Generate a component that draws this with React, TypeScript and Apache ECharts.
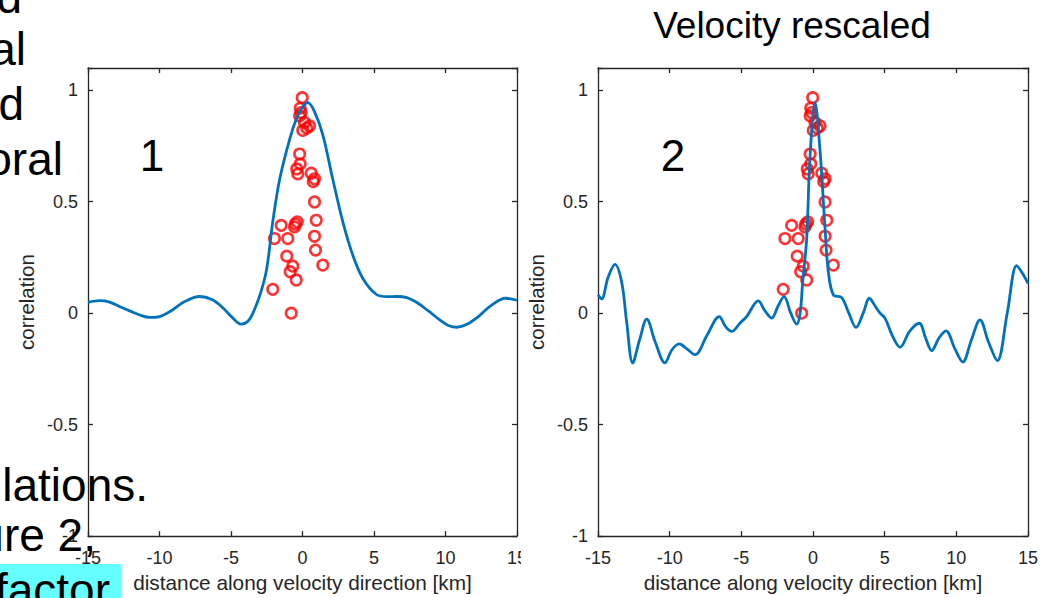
import React, { useEffect, useRef } from "react";
import * as echarts from "echarts";

// ---- data ----
const xTicks = [-15, -10, -5, 0, 5, 10, 15];
const yTicks = [-1, -0.5, 0, 0.5, 1];

const leftCurve: [number, number][] = [
  [-15, 0.049], [-14.2, 0.056], [-13.5, 0.05], [-12.8, 0.03], [-12, 0.008], [-11.3, -0.01],
  [-10.7, -0.019], [-10, -0.015], [-9.2, 0.01], [-8.3, 0.05], [-7.2, 0.075], [-6.3, 0.06],
  [-5.5, 0.02], [-4.9, -0.02], [-4.3, -0.049], [-3.8, -0.035], [-3.4, 0.01], [-2.9, 0.097],
  [-2.5, 0.2], [-2.08, 0.41], [-1.6, 0.6], [-0.9, 0.78], [-0.44, 0.87], [0, 0.925],
  [0.37, 0.945], [0.8, 0.91], [1.42, 0.8], [2.12, 0.6], [2.82, 0.41], [3.52, 0.26],
  [4.22, 0.156], [5.15, 0.085], [5.9, 0.074], [6.6, 0.075], [7.3, 0.07], [8.0, 0.048],
  [8.8, 0.01], [9.6, -0.03], [10.2, -0.055], [10.8, -0.063], [11.5, -0.05], [12.3, -0.015],
  [13.2, 0.035], [14.2, 0.067], [15, 0.058]
];

const rightCurve: [number, number][] = [
  [-15, 0.082], [-14.75, 0.064], [-14.3, 0.16], [-13.82, 0.219], [-13.35, 0.14], [-13.0, -0.04],
  [-12.58, -0.223], [-12.1, -0.12], [-11.6, -0.027], [-11.0, -0.13], [-10.33, -0.223],
  [-9.85, -0.165], [-9.33, -0.138], [-8.8, -0.16], [-8.23, -0.186], [-7.4, -0.1], [-6.54, -0.015],
  [-6.1, -0.06], [-5.67, -0.082], [-5.1, -0.045], [-4.63, -0.015], [-3.82, 0.055], [-3.35, 0.01],
  [-2.88, -0.022], [-2.45, 0.03], [-2.02, 0.074], [-1.55, 0.0], [-1.14, -0.049], [-0.9, 0.0],
  [-0.72, 0.14], [-0.44, 0.335], [-0.21, 0.7], [0.14, 0.945], [0.49, 0.73], [0.84, 0.38],
  [1.07, 0.186], [1.42, 0.082], [2.0, 0.07], [2.5, 0.0], [3.0, -0.064], [3.5, 0.0],
  [3.93, 0.067], [4.4, 0.025], [4.68, 0.0], [5.02, -0.022], [5.6, -0.11], [6.07, -0.153],
  [6.75, -0.08], [7.42, -0.045], [7.85, -0.11], [8.28, -0.168], [8.8, -0.11], [9.28, -0.079],
  [9.9, -0.16], [10.45, -0.219], [11.05, -0.12], [11.65, -0.03], [12.25, -0.13],
  [12.86, -0.213], [13.55, 0.0], [14.21, 0.213], [14.6, 0.18], [15, 0.134]
];

const scatterX = [
  -0.02, -0.16, -0.1, -0.2, 0.14, 0.49, 0.3, 0.02, -0.2, -0.16, -0.4, -0.33, 0.61, 0.75, 0.84,
  0.84, 0.96, 0.84, 0.91, 1.42, -0.37, -0.5, -0.56, -1.49, -1.96, -1.03, -1.1, -0.68, -0.86,
  -0.44, -2.08, -0.79
];
const scatterY = [
  0.967, 0.92, 0.9, 0.885, 0.856, 0.84, 0.83, 0.82, 0.714, 0.67, 0.647, 0.625, 0.628, 0.59, 0.603,
  0.499, 0.417, 0.345, 0.283, 0.216, 0.41, 0.4, 0.387, 0.394, 0.335, 0.335, 0.256, 0.211, 0.186,
  0.149, 0.107, 0.0
];

const slideLines = [
  { text: "d", right: 22, y: -3 },
  { text: "al", right: 26, y: 49 },
  { text: "d", right: 24, y: 104 },
  { text: "oral", right: 63, y: 159 },
  { text: "lations.", right: 148, y: 485 },
  { text: "ure 2,", right: 96, y: 535 },
  { text: "factor", right: 110, y: 590 }
];
const panelLabels = [
  { text: "1", x: 152, y: 155 },
  { text: "2", x: 673, y: 155 }
];
const titleText = "Velocity rescaled";
const xName = "distance along velocity direction [km]";
const yName = "correlation";

const AXIS = "#262626";
const FONT = "'Liberation Sans', Arial, sans-serif";

export default function App() {
  const ref = useRef<HTMLDivElement>(null);
  useEffect(() => {
    if (!ref.current) return;
    const chart = echarts.init(ref.current, undefined, { renderer: "svg" });
    const scatterData = scatterX.map((x, i) => [x, scatterY[i]]);

    const xBottom = (gridIndex: number) => ({
      type: "value", gridIndex, position: "bottom", min: -15, max: 15, interval: 5,
      name: xName, nameLocation: "middle", nameGap: 35,
      nameTextStyle: { color: AXIS, fontSize: 20.8, fontFamily: FONT },
      axisLine: { show: true, onZero: false, lineStyle: { color: AXIS, width: 1.3 } },
      axisTick: { show: true, inside: true, length: 5, lineStyle: { color: AXIS, width: 1.3 } },
      axisLabel: { color: AXIS, fontSize: 18, fontFamily: FONT, margin: 13 },
      splitLine: { show: false }
    });
    const xTop = (gridIndex: number) => ({
      type: "value", gridIndex, position: "top", min: -15, max: 15, interval: 5,
      axisLine: { show: true, onZero: false, lineStyle: { color: AXIS, width: 1.3 } },
      axisTick: { show: true, inside: true, length: 5, lineStyle: { color: AXIS, width: 1.3 } },
      axisLabel: { show: false }, splitLine: { show: false }
    });
    const yLeft = (gridIndex: number) => ({
      type: "value", gridIndex, position: "left", min: -1, max: 1.1, interval: 0.5,
      name: yName, nameLocation: "middle", nameGap: 51, nameRotate: 90,
      nameTextStyle: { color: AXIS, fontSize: 20.5, fontFamily: FONT },
      axisLine: { show: true, onZero: false, lineStyle: { color: AXIS, width: 1.3 } },
      axisTick: { show: true, inside: true, length: 5, lineStyle: { color: AXIS, width: 1.3 } },
      axisLabel: {
        color: AXIS, fontSize: 18, fontFamily: FONT, margin: 10,
        formatter: (v: number) => (yTicks.some((t) => Math.abs(t - v) < 1e-6) ? String(v) : "")
      },
      splitLine: { show: false }
    });
    const yRight = (gridIndex: number) => ({
      type: "value", gridIndex, position: "right", min: -1, max: 1.1, interval: 0.5,
      axisLine: { show: true, onZero: false, lineStyle: { color: AXIS, width: 1.3 } },
      axisTick: { show: true, inside: true, length: 5, lineStyle: { color: AXIS, width: 1.3 } },
      axisLabel: { show: false }, splitLine: { show: false }
    });

    const textEl = (t: string, x: number, y: number, size: number, align: string, z = 100) => ({
      type: "text", z, x, y,
      style: {
        text: t, font: `${size}px ${FONT}`, fill: "#000",
        textAlign: align, textVerticalAlign: "middle", align, verticalAlign: "middle"
      }
    });

    const scatterStyle = { color: "rgba(0,0,0,0)", borderColor: "#ff0000", borderWidth: 2.6 };

    chart.setOption({
      animation: false,
      backgroundColor: "#fff",
      grid: [
        { left: 88, top: 68, width: 429, height: 470 },
        { left: 598, top: 68, width: 430, height: 470 }
      ],
      xAxis: [xBottom(0), xTop(0), xBottom(1), xTop(1)],
      yAxis: [yLeft(0), yRight(0), yLeft(1), yRight(1)],
      series: [
        {
          type: "scatter", xAxisIndex: 0, yAxisIndex: 0, data: scatterData, symbol: "circle",
          symbolSize: 10.5, z: 2, itemStyle: scatterStyle
        },
        {
          type: "line", xAxisIndex: 0, yAxisIndex: 0, data: leftCurve, showSymbol: false,
          smooth: 0.35, z: 3, lineStyle: { color: "#0072BD", width: 2.8 }
        },
        {
          type: "scatter", xAxisIndex: 2, yAxisIndex: 2, data: scatterData, symbol: "circle",
          symbolSize: 10.5, z: 2, itemStyle: scatterStyle
        },
        {
          type: "line", xAxisIndex: 2, yAxisIndex: 2, data: rightCurve, showSymbol: false,
          smooth: 0.35, z: 3, lineStyle: { color: "#0072BD", width: 2.8 }
        }
      ],
      graphic: [
        { type: "rect", z: 50, shape: { x: 521, y: 545, width: 30, height: 30 }, style: { fill: "#fff" } },
        { type: "rect", z: 90, shape: { x: 0, y: 564, width: 121, height: 40 }, style: { fill: "#66FFFF" } },
        textEl(titleText, 792, 25, 37, "center"),
        ...panelLabels.map((p) => textEl(p.text, p.x, p.y, 44, "center")),
        ...slideLines.map((l) => textEl(l.text, l.right, l.y, 46, "right"))
      ]
    });
    return () => chart.dispose();
  }, []);
  return (
    <div
      ref={ref}
      style={{ position: "absolute", left: 0, top: 0, width: 1047, height: 598, background: "#fff" }}
    />
  );
}
